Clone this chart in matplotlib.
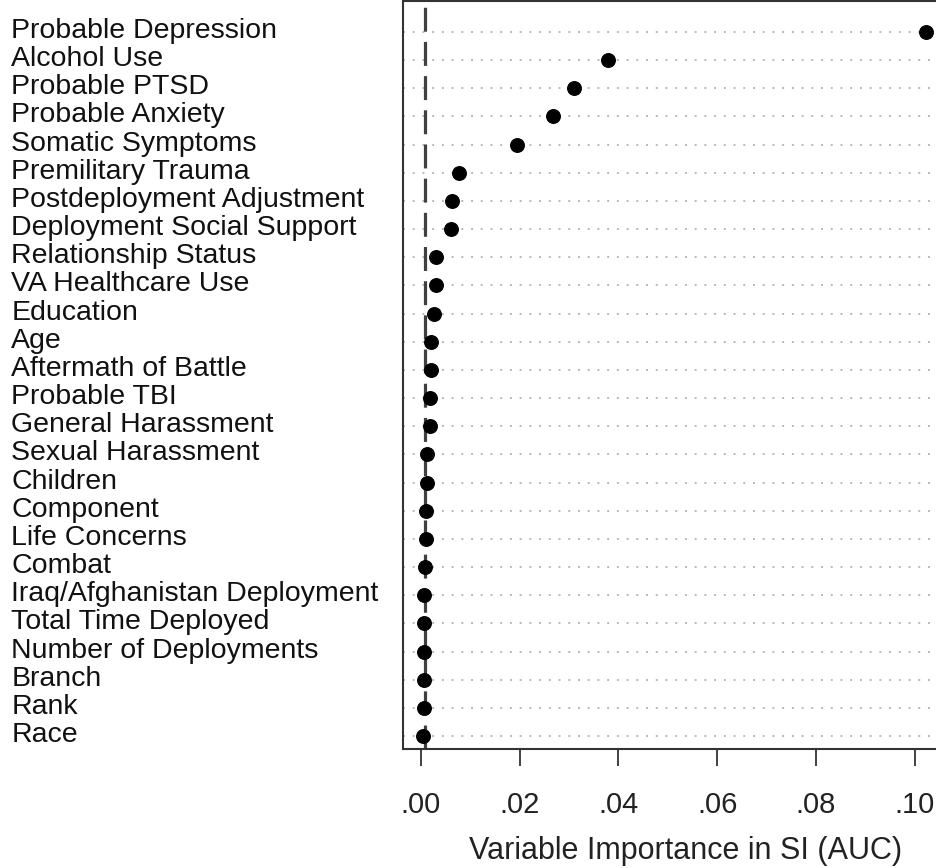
import numpy as np
import matplotlib.pyplot as plt
import matplotlib.transforms as mtransforms

plt.rcParams['font.family'] = ['Liberation Sans', 'DejaVu Sans']

# Variables, ordered top to bottom
variables = [
    "Probable Depression", "Alcohol Use", "Probable PTSD", "Probable Anxiety",
    "Somatic Symptoms", "Premilitary Trauma", "Postdeployment Adjustment",
    "Deployment Social Support", "Relationship Status", "VA Healthcare Use",
    "Education", "Age", "Aftermath of Battle", "Probable TBI",
    "General Harassment", "Sexual Harassment", "Children", "Component",
    "Life Concerns", "Combat", "Iraq/Afghanistan Deployment",
    "Total Time Deployed", "Number of Deployments", "Branch", "Rank", "Race",
]
importance = [
    0.1022, 0.0378, 0.0311, 0.0267,
    0.0194, 0.0077, 0.0063,
    0.0061, 0.0031, 0.0030,
    0.0026, 0.0021, 0.0020, 0.0019,
    0.0019, 0.0012, 0.0012, 0.0010,
    0.0010, 0.0008, 0.0007,
    0.0006, 0.0006, 0.0006, 0.0006, 0.0004,
]
threshold = 0.0009
x_ticks = [0.00, 0.02, 0.04, 0.06, 0.08, 0.10]
x_tick_labels = [".00", ".02", ".04", ".06", ".08", ".10"]

fig = plt.figure(figsize=(9.37, 8.68), dpi=100)
ax = fig.add_axes([403 / 937, 119 / 868, 1 - 403 / 937, 748 / 868])

ypos = np.arange(len(variables))

# dotted guide lines
for y in ypos:
    ax.axhline(y, color='#b8b8b8', linestyle=(0, (1, 4)), linewidth=1.4, zorder=1)

ax.axvline(threshold, color='#404040', linestyle=(0, (7.5, 3.2)), linewidth=2.3, zorder=2)
ax.scatter(importance, ypos, s=95, color='black', zorder=3, clip_on=False)

ax.set_xlim(-0.0036, 0.1045)
ax.set_ylim(len(variables) - 1 + 0.46, -1.1)

ax.set_yticks(ypos)
ax.set_yticklabels(variables, fontsize=20.5, ha='left', color='#111111')
ax.tick_params(axis='y', length=0, pad=282)
# nudge the labels up a little, they sit slightly above the dot rows
shift = mtransforms.ScaledTranslation(0, 4 / 100, fig.dpi_scale_trans)
for lab in ax.get_yticklabels():
    lab.set_transform(lab.get_transform() + shift)

ax.set_xticks(x_ticks)
ax.set_xticklabels(x_tick_labels, fontsize=21, color='#222222')
ax.tick_params(axis='x', length=12.5, width=1.3, pad=17.5, color='#333333')
ax.set_xlabel("Variable Importance in SI (AUC)", fontsize=22, color='#222222')
ax.xaxis.set_label_coords(0.530, -0.116)

for side in ['left', 'top', 'bottom']:
    ax.spines[side].set_color('#333333')
    ax.spines[side].set_linewidth(1.5)
ax.spines['right'].set_visible(False)

fig.savefig("out.png", dpi=100)
